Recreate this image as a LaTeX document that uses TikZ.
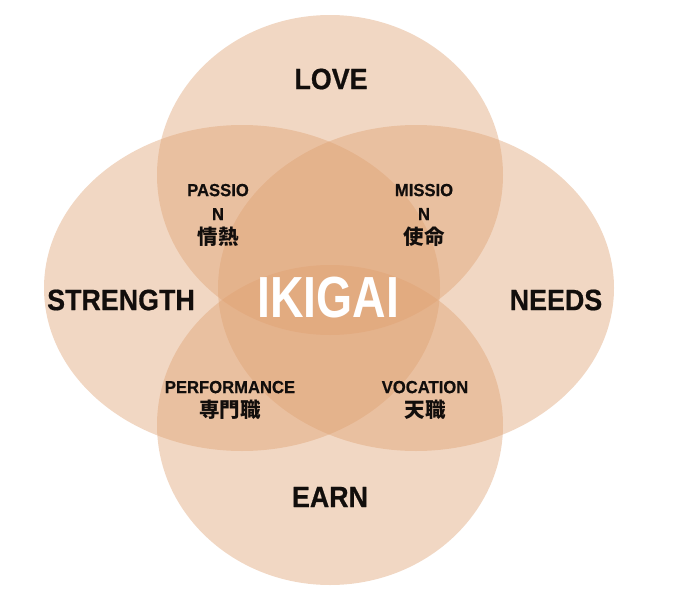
\documentclass[tikz,border=0pt]{standalone}
\usepackage{fontspec}
\newfontfamily\lab{Liberation Sans}[FakeStretch=0.91,FakeBold=0.6]
\newfontfamily\sublabfont{Liberation Sans}[FakeStretch=0.95,FakeBold=0.5]
\newfontfamily\ikifont{Liberation Sans}[FakeStretch=0.80]
\newfontfamily\cjk{Noto Sans CJK JP}
\definecolor{peach}{RGB}{222,160,112}
\definecolor{ink}{RGB}{18,14,12}
\begin{document}
\begin{tikzpicture}[x=1pt,y=-1pt,
  petal/.style={fill=peach,fill opacity=0.42,draw=none},
  mainlab/.style={text=ink,font=\lab\bfseries\fontsize{29.5}{32}\selectfont,inner sep=0pt},
  sublab/.style={text=ink,align=center,inner sep=0pt,font=\sublabfont\bfseries\fontsize{17.5}{24}\selectfont},
  cjklab/.style={font=\cjk\bfseries\fontsize{20.5}{24}\selectfont},
  centerlab/.style={text=white,font=\ikifont\bfseries\fontsize{58}{60}\selectfont,inner sep=0pt}]
\useasboundingbox (0,0) rectangle (680,597);
% circles
\path[petal] (330,175) ellipse [x radius=173,y radius=160];
\path[petal] (242,288) ellipse [x radius=198,y radius=163];
\path[petal] (416,288) ellipse [x radius=198,y radius=163];
\path[petal] (330,425) ellipse [x radius=173,y radius=160];
% main labels
\node[mainlab] (love) at (331,79) {LOVE};
\node[mainlab] (strength) at (121,300) {STRENGTH};
\node[mainlab] (needs) at (556,300) {NEEDS};
\node[mainlab] (earn) at (330,497) {EARN};
\node[centerlab] (ikigai) at (328,298) {IKIGAI};
% overlap labels
\node[sublab] (passion) at (218,215) {PASSIO\\N\\{\cjk\bfseries\fontsize{20.5}{24}\selectfont 情熱}};
\node[sublab] (mission) at (424,215) {MISSIO\\N\\{\cjk\bfseries\fontsize{20.5}{24}\selectfont 使命}};
\node[sublab] (performance) at (230,400) {PERFORMANCE\\{\cjk\bfseries\fontsize{20.5}{24}\selectfont 専門職}};
\node[sublab] (vocation) at (425,400) {VOCATION\\{\cjk\bfseries\fontsize{20.5}{24}\selectfont 天職}};
\end{tikzpicture}
\end{document}
